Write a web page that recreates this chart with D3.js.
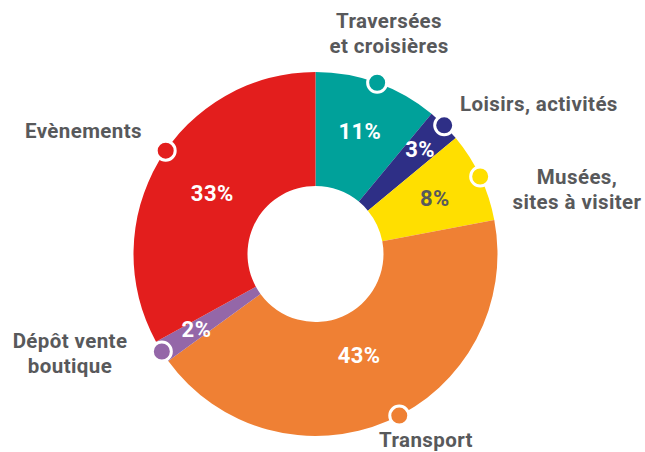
<!DOCTYPE html>
<html>
<head>
<meta charset="utf-8">
<script src="https://cdn.jsdelivr.net/npm/d3@7"></script>
<style>
  body { margin: 0; background: #fff; }
  text { font-family: Roboto, "Open Sans", sans-serif; font-weight: bold; }
  .cat { fill: #58595b; font-size: 20.5px; letter-spacing: 0.4px; }
  .pct { font-size: 22px; letter-spacing: 0.4px; }
</style>
</head>
<body>
<svg id="chart"></svg>
<script>
// slices, clockwise from 12 o'clock
var categories = ["Traversées et croisières", "Loisirs, activités", "Musées, sites à visiter",
                  "Transport", "Dépôt vente boutique", "Evènements"];
var values = [11, 3, 8, 43, 2, 33];
var colors = ["#00a19a", "#2e2f86", "#ffdf00", "#ef8034", "#9467a8", "#e31e1d"];
var pctColors = ["#fff", "#fff", "#58595b", "#fff", "#fff", "#fff"];

// category label lines (rendered as separate lines)
var labelLines = [["Traversées", "et croisières"], ["Loisirs, activités"], ["Musées,", "sites à visiter"],
                  ["Transport"], ["Dépôt vente", "boutique"], ["Evènements"]];

var screen = {width: 645, height: 452};
var center = {x: 315.5, y: 254};
var outerR = 182, innerR = 68;

// layout tweaks: radius of the % labels, marker angle shift (degrees)
var pctRadius = [131, 148, 132, 110, 141, 120];
var markerShift = [0, 0, 0, -4, 0, 4];

var svg = d3.select("#chart")
    .attr("width", screen.width)
    .attr("height", screen.height);

var g = svg.append("g")
    .attr("transform", "translate(" + center.x + "," + center.y + ")");

var pie = d3.pie().sort(null).value(function(d) { return d; });
var arcs = pie(values);

var arc = d3.arc().innerRadius(innerR).outerRadius(outerR);

g.selectAll("path.slice")
    .data(arcs)
    .enter()
    .append("path")
    .classed("slice", true)
    .attr("d", arc)
    .attr("fill", function(d, i) { return colors[i]; });

var polar = function(angle, r) {
    return [Math.sin(angle) * r, -Math.cos(angle) * r];
};
var mid = function(d) { return (d.startAngle + d.endAngle) / 2; };

// percentage labels
g.selectAll("text.pct")
    .data(arcs)
    .enter()
    .append("text")
    .classed("pct", true)
    .attr("text-anchor", "middle")
    .attr("dy", "0.36em")
    .attr("fill", function(d, i) { return pctColors[i]; })
    .attr("x", function(d, i) { return polar(mid(d), pctRadius[i])[0]; })
    .attr("y", function(d, i) { return polar(mid(d), pctRadius[i])[1]; })
    .text(function(d) { return d.data + "%"; });

// markers on the outer edge
var markerAngle = function(d, i) { return mid(d) + markerShift[i] * Math.PI / 180; };
g.selectAll("circle.marker")
    .data(arcs)
    .enter()
    .append("circle")
    .classed("marker", true)
    .attr("r", 9.5)
    .attr("fill", function(d, i) { return colors[i]; })
    .attr("stroke", "#fff")
    .attr("stroke-width", 3)
    .attr("cx", function(d, i) { return polar(markerAngle(d, i), outerR)[0]; })
    .attr("cy", function(d, i) { return polar(markerAngle(d, i), outerR)[1]; });

// category labels: anchor point + alignment per slice
var labelPos = [
    {x: 389, y: 28, anchor: "middle"},
    {x: 460, y: 111, anchor: "start"},
    {x: 577, y: 184, anchor: "middle"},
    {x: 426, y: 447, anchor: "middle"},
    {x: 70, y: 348, anchor: "middle"},
    {x: 142, y: 138, anchor: "end"}
];

var labels = svg.append("g").classed("labels", true);
labelLines.forEach(function(lines, i) {
    var t = labels.append("text")
        .classed("cat", true)
        .attr("text-anchor", labelPos[i].anchor)
        .attr("x", labelPos[i].x)
        .attr("y", labelPos[i].y);
    lines.forEach(function(line, j) {
        t.append("tspan")
            .attr("x", labelPos[i].x)
            .attr("dy", j == 0 ? 0 : 24.5)
            .text(line);
    });
});
</script>
</body>
</html>
